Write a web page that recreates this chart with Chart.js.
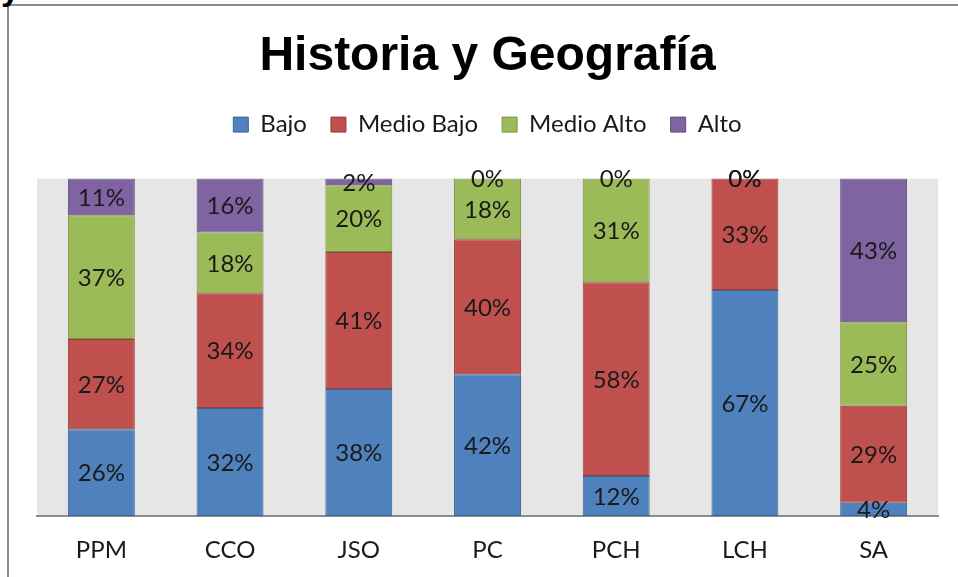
<!DOCTYPE html>
<html>
<head>
<meta charset="utf-8">
<script src="https://cdn.jsdelivr.net/npm/chart.js@4.4.1/dist/chart.umd.min.js"></script>
<style>
  html, body { margin: 0; padding: 0; background: #fff; overflow: hidden; }
  #frame { position: absolute; left: 7px; top: 4px; width: 1000px; height: 700px; border: 2px solid #8c8c8c; }
  #cut { position: absolute; left: 1px; top: -31px; font: bold 34px "Liberation Sans", Arial, sans-serif; color: #000; }
  #wrap { position: absolute; left: 0; top: 0; width: 958px; height: 577px; }
</style>
</head>
<body>
<div id="frame"></div>
<div id="cut">y</div>
<div id="wrap"><canvas id="chart" width="958" height="577"></canvas></div>
<script>
const categories = ['PPM', 'CCO', 'JSO', 'PC', 'PCH', 'LCH', 'SA'];
const bajo       = [26, 32, 38, 42, 12, 67, 4];
const medioBajo  = [27, 34, 41, 40, 58, 33, 29];
const medioAlto  = [37, 18, 20, 18, 31, 0, 25];
const alto       = [11, 16, 2, 0, 0, 0, 43];

const series = [
    { label: 'Bajo', values: bajo, fill: '#4f81bd', edge: '#3a6596' },
    { label: 'Medio Bajo', values: medioBajo, fill: '#c0504d', edge: '#963c3a' },
    { label: 'Medio Alto', values: medioAlto, fill: '#9bbb59', edge: '#779443' },
    { label: 'Alto', values: alto, fill: '#8064a2', edge: '#5f4a7b' }
];

// 100% stacked: each column scaled by its own total
const totals = categories.map(function (c, i) {
    return series.reduce(function (sum, s) { return sum + s.values[i]; }, 0);
});

const textFont = 'Lato, "Open Sans", sans-serif';

const plotBg = {
    id: 'plotBg',
    beforeDraw: function (chart) {
        const a = chart.chartArea;
        const ctx = chart.ctx;
        ctx.save();
        ctx.fillStyle = '#e6e6e6';
        ctx.fillRect(a.left, a.top, a.right - a.left, a.bottom - a.top);
        ctx.restore();
    }
};

// legend box taller than its row, so the plot starts lower
const legendSpace = {
    id: 'legendSpace',
    beforeLayout: function (chart) {
        const lg = chart.legend;
        if (!lg || lg._spaced) return;
        const fit = lg.fit;
        lg.fit = function () {
            fit.call(this);
            this.height = 90;
        };
        lg._spaced = true;
    }
};

const barLabels = {
    id: 'barLabels',
    afterDatasetsDraw: function (chart) {
        const ctx = chart.ctx;
        ctx.save();
        ctx.font = '24px ' + textFont;
        ctx.fillStyle = '#1a1a1a';
        ctx.textAlign = 'center';
        ctx.textBaseline = 'middle';
        chart.data.datasets.forEach(function (ds, di) {
            const meta = chart.getDatasetMeta(di);
            meta.data.forEach(function (bar, i) {
                const y = (bar.y + bar.base) / 2;
                ctx.fillText(series[di].values[i] + '%', bar.x, y + 1);
            });
        });
        ctx.restore();
    }
};

new Chart(document.getElementById('chart'), {
    type: 'bar',
    data: {
        labels: categories,
        datasets: series.map(function (s) {
            return {
                label: s.label,
                data: s.values.map(function (v, i) { return v / totals[i] * 100; }),
                backgroundColor: s.fill,
                borderColor: s.edge,
                borderWidth: 1,
                borderSkipped: false,
                barPercentage: 0.52,
                categoryPercentage: 1
            };
        })
    },
    options: {
        responsive: false,
        animation: false,
        layout: { padding: { left: 37, right: 20, top: 0, bottom: 14 } },
        plugins: {
            title: {
                display: true,
                text: 'Historia y Geografía',
                color: '#000',
                font: { family: '"Liberation Sans", Arial, sans-serif', size: 48, weight: 'bold', lineHeight: 1.2 },
                padding: { top: 28, bottom: 3 }
            },
            legend: {
                position: 'top',
                labels: {
                    color: '#1a1a1a',
                    font: { family: textFont, size: 24 },
                    boxWidth: 15,
                    boxHeight: 15,
                    padding: 24
                }
            },
            tooltip: { enabled: false }
        },
        scales: {
            x: {
                stacked: true,
                grid: { display: false, drawTicks: false },
                border: { color: '#8c8c8c', width: 2 },
                ticks: { color: '#1a1a1a', font: { family: textFont, size: 24 }, padding: 20 },
                afterFit: function (scale) { scale.height = 47; }
            },
            y: {
                stacked: true,
                display: false,
                min: 0,
                max: 100
            }
        }
    },
    plugins: [plotBg, legendSpace, barLabels]
});
</script>
</body>
</html>
